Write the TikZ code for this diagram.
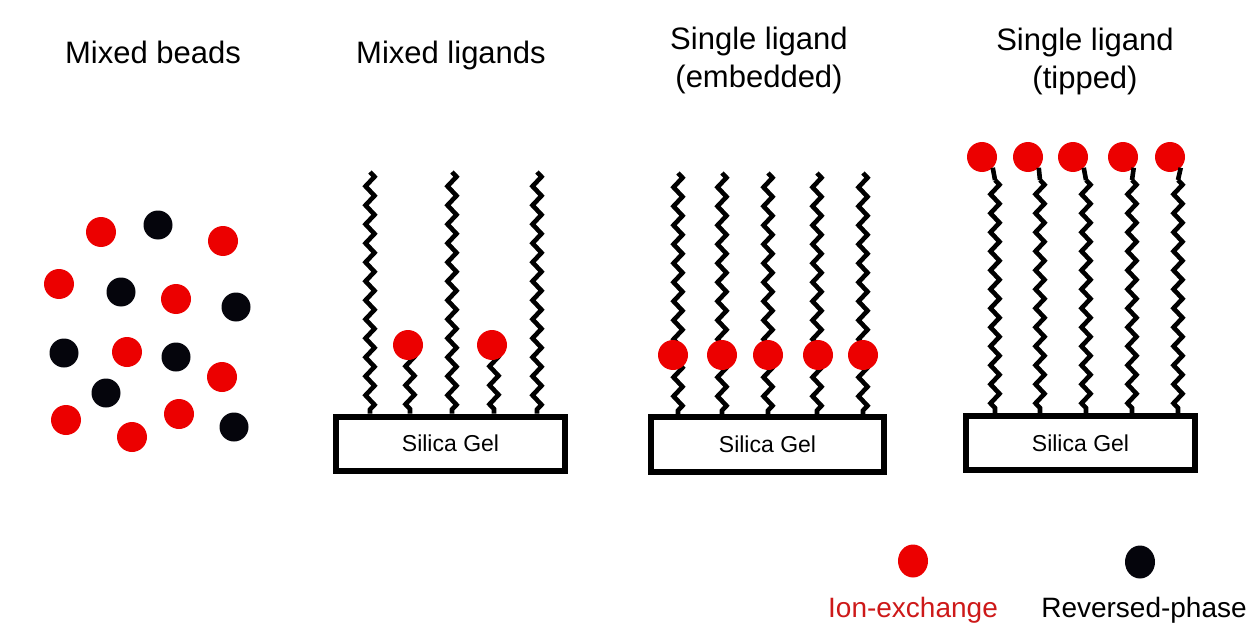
\documentclass[tikz,border=0pt]{standalone}
\usepackage{fontspec}
\setmainfont{Liberation Sans}
\usetikzlibrary{decorations.pathmorphing,shapes.geometric}
\definecolor{ionred}{RGB}{236,0,0}
\definecolor{ionlabel}{RGB}{205,25,25}
\definecolor{rpblack}{RGB}{5,5,12}
\begin{document}
\begin{tikzpicture}[x=1pt,y=-1pt,
 redbead/.style={circle,fill=ionred,inner sep=0,minimum size=30},
 blackbead/.style={circle,fill=rpblack,inner sep=0,minimum size=29},
 chain/.style={line width=4.6, line join=miter, decorate, decoration={zigzag,segment length=19,amplitude=4.5}},
 link/.style={line width=4.6},
 silica/.style={draw,line width=6,minimum width=229,minimum height=54,inner sep=0,font=\fontsize{23}{27}\selectfont},
 title/.style={inner sep=0,font=\fontsize{31}{38}\selectfont,align=center},
 legendtext/.style={inner sep=0,font=\fontsize{28}{34}\selectfont,anchor=base}]
\useasboundingbox (0,0) rectangle (1253,623);

% titles
\node[title,anchor=base] (t1) at (153,64) {Mixed beads};
\node[title,anchor=base] (t2) at (451,64) {Mixed ligands};
\node[title,anchor=north] (t3) at (759,26.5) {Single ligand\\(embedded)};
\node[title,anchor=north] (t4) at (1085,28) {Single ligand\\(tipped)};

% mixed beads
\node[redbead] (m1) at (101,232) {};
\node[blackbead] (m2) at (158,225) {};
\node[redbead] (m3) at (223,241) {};
\node[redbead] (m4) at (59,284) {};
\node[blackbead] (m5) at (121,292) {};
\node[redbead] (m6) at (176,299) {};
\node[blackbead] (m7) at (236,307) {};
\node[blackbead] (m8) at (64,353) {};
\node[redbead] (m9) at (127,352) {};
\node[blackbead] (m10) at (176,357) {};
\node[redbead] (m11) at (222,377) {};
\node[blackbead] (m12) at (106,393) {};
\node[redbead] (m13) at (66,420) {};
\node[redbead] (m14) at (179,414) {};
\node[redbead] (m15) at (132,437) {};
\node[blackbead] (m16) at (234,427) {};

% silica boxes
\node[silica] (box1) at (450.5,443.5) {Silica Gel};
\node[silica,minimum width=233,minimum height=55] (box2) at (767.5,444.5) {Silica Gel};
\node[silica] (box3) at (1080.5,443) {Silica Gel};

% mixed ligands
\coordinate (a1) at (370,172);
\coordinate (a2) at (452,172);
\coordinate (a3) at (537,172);
\draw[chain] (a1) -- (a1 |- box1.north);
\draw[chain] (a2) -- (a2 |- box1.north);
\draw[chain] (a3) -- (a3 |- box1.north);
\coordinate (s1) at (410,352);
\coordinate (s2) at (494,352);
\draw[chain] (s1) -- (s1 |- box1.north);
\draw[chain] (s2) -- (s2 |- box1.north);
\node[redbead] (b1) at (408,345) {};
\node[redbead] (b2) at (492,345) {};

% embedded
\foreach \x [count=\i] in {678,722,768,817,863}{
  \coordinate (e\i) at (\x,173);
  \draw[chain] (e\i) -- (e\i |- box2.north);
}
\node[redbead] (eb1) at (673,355) {};
\node[redbead] (eb2) at (722,355) {};
\node[redbead] (eb3) at (768,355) {};
\node[redbead] (eb4) at (818,355) {};
\node[redbead] (eb5) at (863,355) {};

% tipped
\foreach \x [count=\i] in {995,1040,1086,1132,1178}{
  \coordinate (p\i) at (\x,180);
  \draw[chain] (p\i) -- (p\i |- box3.north);
}
\node[redbead] (tb1) at (982,157) {};
\node[redbead] (tb2) at (1028,157) {};
\node[redbead] (tb3) at (1073,157) {};
\node[redbead] (tb4) at (1123,157) {};
\node[redbead] (tb5) at (1170,157) {};
\draw[link] (tb1.south east) -- (p1);
\draw[link] (tb2.south east) -- (p2);
\draw[link] (tb3.south east) -- (p3);
\draw[link] (tb4.south east) -- (p4);
\draw[link] (tb5.south east) -- (p5);

% legend
\node[ellipse,fill=ionred,inner sep=0,minimum width=30,minimum height=33] (lr) at (913,561) {};
\node[ellipse,fill=rpblack,inner sep=0,minimum width=30,minimum height=33] (lb) at (1140,562) {};
\node[legendtext,text=ionlabel] (ltr) at (913,617) {Ion-exchange};
\node[legendtext] (ltb) at (1144,617) {Reversed-phase};
\end{tikzpicture}
\end{document}
